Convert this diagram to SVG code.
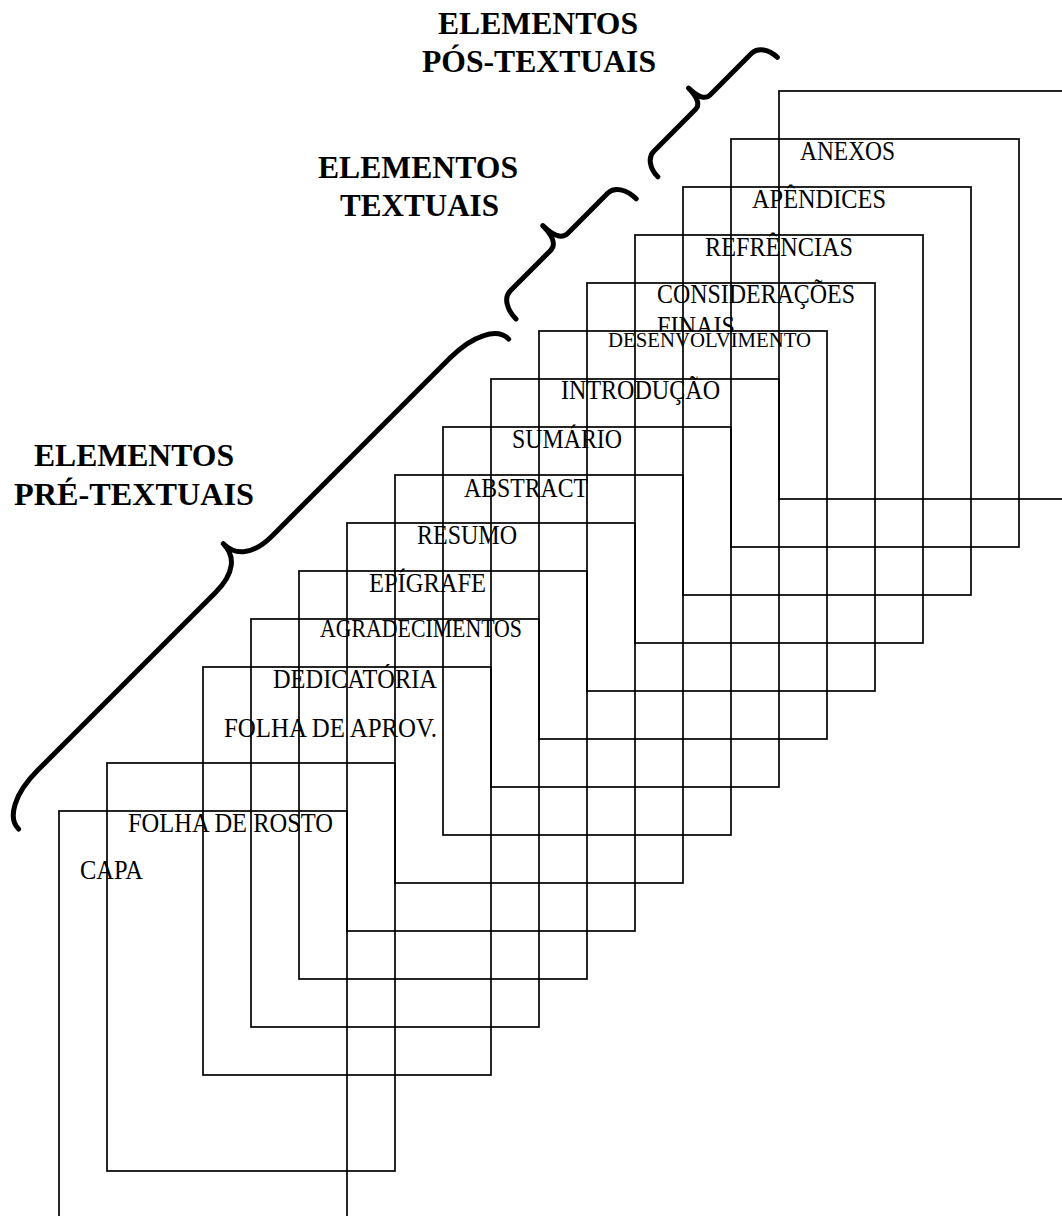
<svg xmlns="http://www.w3.org/2000/svg" width="1062" height="1216" viewBox="0 0 1062 1216">
<defs>
<style>
.pg{fill:none;stroke:#000;stroke-width:1.7}
.t{font-family:"Liberation Serif","Times New Roman",serif;font-size:27px;fill:#000}
.h{font-family:"Liberation Serif","Times New Roman",serif;font-size:32px;font-weight:bold;fill:#000}
.br{fill:none;stroke:#000;stroke-width:5;stroke-linecap:round;stroke-linejoin:round}
</style>
<clipPath id="clipFinais"><rect x="600" y="280" width="300" height="51.5"/></clipPath>
</defs>
<rect width="1062" height="1216" fill="#fff"/>

<g id="pages">
<g id="capa"><rect class="pg" x="59" y="811" width="288" height="408"/><text class="t" x="80" y="879" textLength="63" lengthAdjust="spacingAndGlyphs">CAPA</text></g>
<g id="folha-rosto"><rect class="pg" x="107" y="763" width="288" height="408"/><text class="t" x="128" y="832" textLength="205" lengthAdjust="spacingAndGlyphs">FOLHA DE ROSTO</text></g>
<g id="folha-aprov"><rect class="pg" x="203" y="667" width="288" height="408"/><text class="t" x="224" y="737" textLength="213" lengthAdjust="spacingAndGlyphs">FOLHA DE APROV.</text><text class="t" x="273" y="688" textLength="164" lengthAdjust="spacingAndGlyphs">DEDICATÓRIA</text></g>
<g id="agradecimentos"><rect class="pg" x="251" y="619" width="288" height="408"/><text class="t" x="320" y="637" style="font-size:25px" textLength="202" lengthAdjust="spacingAndGlyphs">AGRADECIMENTOS</text></g>
<g id="epigrafe"><rect class="pg" x="299" y="571" width="288" height="408"/><text class="t" x="369" y="592" textLength="117" lengthAdjust="spacingAndGlyphs">EPÍGRAFE</text></g>
<g id="resumo"><rect class="pg" x="347" y="523" width="288" height="408"/><text class="t" x="417" y="544" textLength="100" lengthAdjust="spacingAndGlyphs">RESUMO</text></g>
<g id="abstract"><rect class="pg" x="395" y="475" width="288" height="408"/><text class="t" x="464" y="497" textLength="124" lengthAdjust="spacingAndGlyphs">ABSTRACT</text></g>
<g id="sumario"><rect class="pg" x="443" y="427" width="288" height="408"/><text class="t" x="512" y="448" textLength="110" lengthAdjust="spacingAndGlyphs">SUMÁRIO</text></g>
<g id="introducao"><rect class="pg" x="491" y="379" width="288" height="408"/><text class="t" x="561" y="399" textLength="159" lengthAdjust="spacingAndGlyphs">INTRODUÇÃO</text></g>
<g id="desenvolvimento"><rect class="pg" x="539" y="331" width="288" height="408"/><text class="t" x="608" y="347" style="font-size:20px" textLength="203" lengthAdjust="spacingAndGlyphs">DESENVOLVIMENTO</text></g>
<g id="consideracoes"><rect class="pg" x="587" y="283" width="288" height="408"/><text class="t" x="657" y="303" textLength="198" lengthAdjust="spacingAndGlyphs">CONSIDERAÇÕES</text><text class="t" x="657" y="335" textLength="78" lengthAdjust="spacingAndGlyphs" clip-path="url(#clipFinais)">FINAIS</text></g>
<g id="referencias"><rect class="pg" x="635" y="235" width="288" height="408"/><text class="t" x="705" y="256" textLength="148" lengthAdjust="spacingAndGlyphs">REFRÊNCIAS</text></g>
<g id="apendices"><rect class="pg" x="683" y="187" width="288" height="408"/><text class="t" x="752" y="208" textLength="134" lengthAdjust="spacingAndGlyphs">APÊNDICES</text></g>
<g id="anexos-box"><rect class="pg" x="731" y="139" width="288" height="408"/><text class="t" x="800" y="160" textLength="95" lengthAdjust="spacingAndGlyphs">ANEXOS</text></g>
<g id="ultima"><rect class="pg" x="779" y="91" width="288" height="408"/></g>
</g>

<g id="brace-pre">
<path class="br" transform="translate(-1.2,809.2) rotate(-45)" d="M0,28 C0,12 22,0 55,0 L306.5,0 C334,0 346.5,-12 346.5,-29 C346.5,-12 359,0 386.5,0 L638,0 C671,0 693,12 693,28"/>
<text class="h" x="34" y="466" textLength="200" lengthAdjust="spacingAndGlyphs">ELEMENTOS</text>
<text class="h" x="14" y="505" textLength="240" lengthAdjust="spacingAndGlyphs">PRÉ-TEXTUAIS</text>
</g>
<g id="brace-textuais">
<path class="br" transform="translate(499,302) rotate(-45)" d="M0,24 C0,10 7,0 16,0 L73,0 C81,0 85,-9 85,-23 C85,-9 89,0 97,0 L154,0 C163,0 170,10 170,24"/>
<text class="h" x="318" y="178" textLength="200" lengthAdjust="spacingAndGlyphs">ELEMENTOS</text>
<text class="h" x="340" y="216" textLength="159" lengthAdjust="spacingAndGlyphs">TEXTUAIS</text>
</g>
<g id="brace-pos">
<path class="br" transform="translate(643,162) rotate(-45)" d="M0,21 C0,9 7,0 15,0 L74.5,0 C81,0 84.5,-8 84.5,-20 C84.5,-8 88,0 94.5,0 L154,0 C162,0 169,9 169,21"/>
<text class="h" x="438" y="34" textLength="200" lengthAdjust="spacingAndGlyphs">ELEMENTOS</text>
<text class="h" x="422" y="72" textLength="234" lengthAdjust="spacingAndGlyphs">PÓS-TEXTUAIS</text>
</g>
</svg>
